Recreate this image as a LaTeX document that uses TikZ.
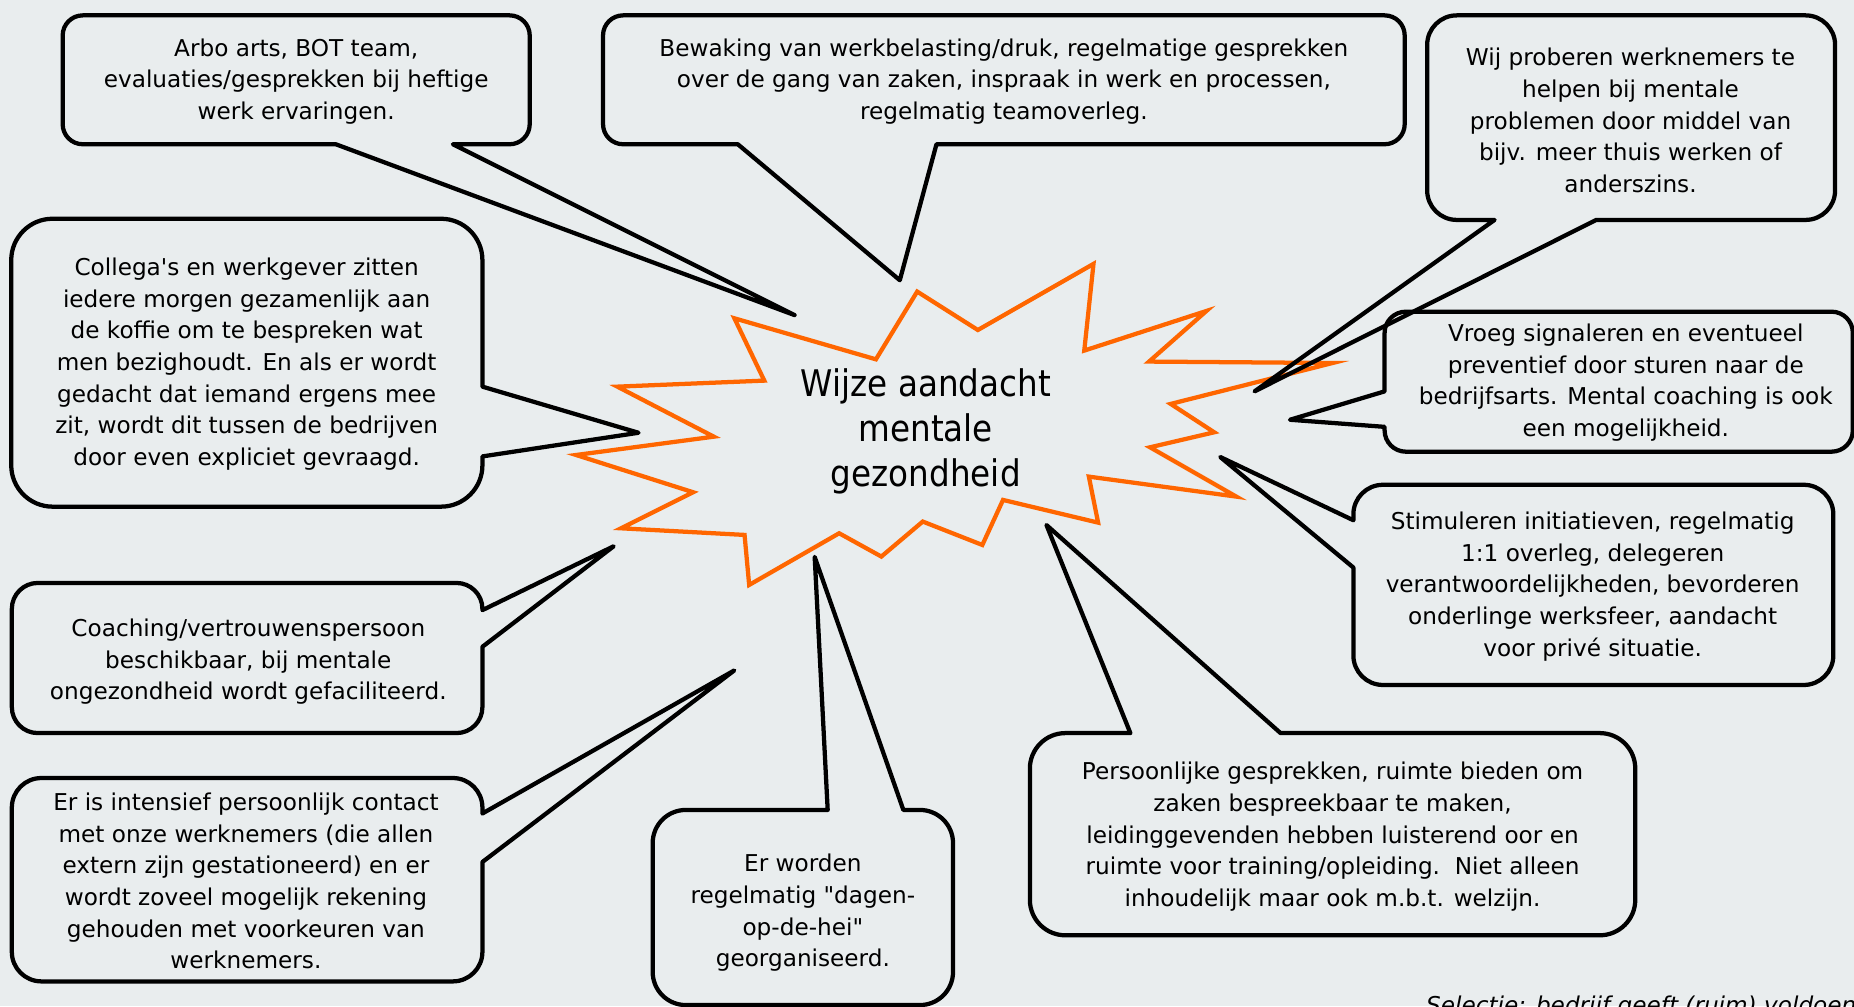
\documentclass[tikz,border=0pt]{standalone}
\usepackage{fontspec}
\setmainfont{DejaVu Sans}
\newfontfamily\centrefont{DejaVu Sans}[FakeStretch=0.89]
\definecolor{bgc}{RGB}{233,237,238}
\definecolor{burstorange}{RGB}{255,102,0}
\begin{document}
\begin{tikzpicture}[x=1pt,y=-1pt,
  callout/.style={draw=black, line width=3.6pt, line join=round},
  burst/.style={draw=burstorange, line width=3.6pt, line join=miter},
  txt/.style={align=center, inner sep=0pt, font=\fontsize{19.6}{26.8}\selectfont, text=black}]
\fill[bgc] (0,0) rectangle (1568,851);
\useasboundingbox (0,0) rectangle (1568,851);
\clip (0,0) rectangle (1568,851);

% starburst
\draw[burst] (775.7,246.6) -- (827,279.1) -- (924.8,223.2) -- (917,296.5) -- (1020.3,263) -- (971.8,305.8) -- (1127,307) -- (990.1,341.6) -- (1026.9,365.6) -- (972.6,378.3) -- (1045.6,420) -- (920.9,403.1) -- (928.7,442) -- (848.3,422.8) -- (830.8,460.9) -- (780.4,441.1) -- (745.4,470.7) -- (709.7,451) -- (633.6,494.7) -- (629.7,452.4) -- (525.2,446.8) -- (586.2,416.3) -- (487.2,384.8) -- (603.7,369.3) -- (522.1,327) -- (646.4,321.9) -- (621.1,269.2) -- (740.8,303.9) -- cycle;
\node[align=center, inner sep=0pt, font=\centrefont\fontsize{31}{38}\selectfont] (centre) at (783,365) {Wijze aandacht\\mentale\\gezondheid};

% tips
\coordinate (tipA) at (672,266.5);
\coordinate (tipB) at (761,237);
\coordinate (tipC) at (1061,331);
\coordinate (tipD) at (540,366);
\coordinate (tipE) at (519,462);
\coordinate (tipF) at (621,567);
\coordinate (tipG) at (689,471);
\coordinate (tipH) at (885,444);
\coordinate (tipI) at (1091,355);
\coordinate (tipJ) at (1032,386.5);

% A
\draw[callout] (284,122) [rounded corners=17pt] -- (53,122) -- (53,13) -- (448,13) -- (448,122) [sharp corners] -- (383,122) -- (tipA) -- cycle;
\node[txt] (tA) at (250.5,69) {Arbo arts, BOT team,\\evaluaties/gesprekken bij heftige\\werk ervaringen.};
% B
\draw[callout] (624,122) [rounded corners=17pt] -- (510,122) -- (510,13) -- (1188,13) -- (1188,122) [sharp corners] -- (792,122) -- (tipB) -- cycle;
\node[txt] (tB) at (849,69) {Bewaking van werkbelasting/druk, regelmatige gesprekken\\over de gang van zaken, inspraak in werk en processen,\\regelmatig teamoverleg.};
% C
\draw[callout] (1264,186) [rounded corners=25pt] -- (1207,186) -- (1207,13) -- (1552,13) -- (1552,186) [sharp corners] -- (1350,186) -- (tipC) -- cycle;
\node[txt] (tC) at (1379,102) {Wij proberen werknemers te\\helpen bij mentale\\problemen door middel van\\bijv. meer thuis werken of\\anderszins.};
% D
\draw[callout] (408,386) [rounded corners=35pt] -- (408,428.5) -- (9.5,428.5) -- (9.5,185) -- (408,185) [sharp corners] -- (408,327) -- (tipD) -- cycle;
\node[txt] (tD) at (208.6,308) {Collega\textquotesingle s en werkgever zitten\\iedere morgen gezamenlijk aan\\de koffie om te bespreken wat\\men bezighoudt. En als er wordt\\gedacht dat iemand ergens mee\\zit, wordt dit tussen de bedrijven\\door even expliciet gevraagd.};
% E
\draw[callout] (408,547) [rounded corners=22pt] -- (408,620) -- (10,620) -- (10,493) -- (408,493) [sharp corners] -- (408,516) -- (tipE) -- cycle;
\node[txt] (tE) at (210,559.6) {Coaching/vertrouwenspersoon\\beschikbaar, bij mentale\\ongezondheid wordt gefaciliteerd.};
% F
\draw[callout] (408,729) [rounded corners=25pt] -- (408,830) -- (10,830) -- (10,658) -- (408,658) [sharp corners] -- (408,688) -- (tipF) -- cycle;
\node[txt] (tF) at (208,745) {Er is intensief persoonlijk contact\\met onze werknemers (die allen\\extern zijn gestationeerd) en er\\wordt zoveel mogelijk rekening\\gehouden met voorkeuren van\\werknemers.};
% G
\draw[callout] (764,685) [rounded corners=28pt] -- (806,685) -- (806,850) -- (552,850) -- (552,685) [sharp corners] -- (700,685) -- (tipG) -- cycle;
\node[txt] (tG) at (679,772) {Er worden\\regelmatig \textquotedbl dagen-\\op-de-hei\textquotedbl\\georganiseerd.};
% H
\draw[callout] (1083,620) [rounded corners=30pt] -- (1383,620) -- (1383,791) -- (871,791) -- (871,620) [sharp corners] -- (956,620) -- (tipH) -- cycle;
\node[txt] (tH) at (1127,707.6) {Persoonlijke gesprekken, ruimte bieden om\\zaken bespreekbaar te maken,\\leidinggevenden hebben luisterend oor en\\ruimte voor training/opleiding.\ \ Niet alleen\\inhoudelijk maar ook m.b.t. welzijn.};
% I
\draw[callout] (1171,361) [rounded corners=18pt] -- (1171,382) -- (1567,382) -- (1567,263.6) -- (1171,263.6) [sharp corners] -- (1171,331) -- (tipI) -- cycle;
\node[txt] (tI) at (1375,323.5) {Vroeg signaleren en eventueel\\preventief door sturen naar de\\bedrijfsarts. Mental coaching is ook\\een mogelijkheid.};
% J
\draw[callout] (1144.6,480) [rounded corners=25pt] -- (1144.6,579.3) -- (1550.5,579.3) -- (1550.5,410) -- (1144.6,410) [sharp corners] -- (1144.6,440) -- (tipJ) -- cycle;
\node[txt] (tJ) at (1347,496) {Stimuleren initiatieven, regelmatig\\1:1 overleg, delegeren\\verantwoordelijkheden, bevorderen\\onderlinge werksfeer, aandacht\\voor privé situatie.};

\node[anchor=north west, inner sep=0pt, font=\itshape\fontsize{19.6}{24}\selectfont] (sel) at (1206,842) {Selectie: bedrijf geeft (ruim) voldoende};
\end{tikzpicture}
\end{document}
